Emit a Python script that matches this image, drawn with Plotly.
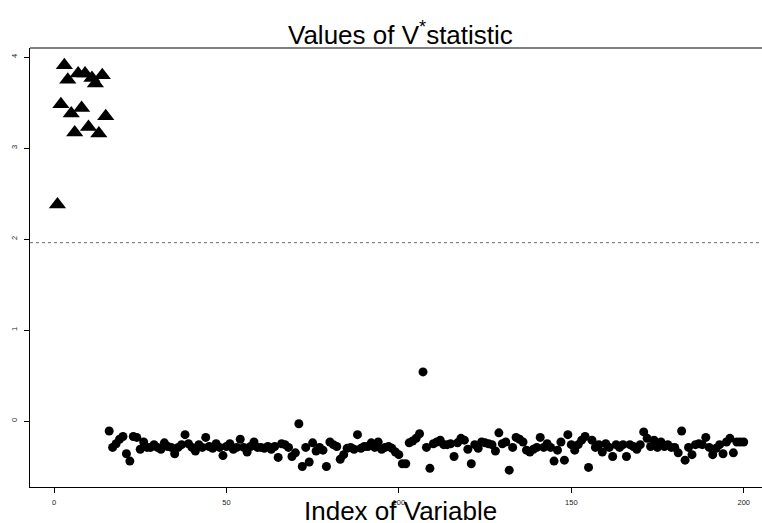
import plotly.graph_objects as go

# Index of variable and V* statistic for the first 15 (active) variables
active_idx = list(range(1, 16))
active_vals = [2.38, 3.48, 3.91, 3.75, 3.38, 3.17, 3.82, 3.44, 3.82, 3.23,
               3.77, 3.71, 3.16, 3.80, 3.35]

# Remaining variables 16..200
inactive_idx = list(range(16, 201))
inactive_vals = [
    -0.11, -0.29, -0.25, -0.20, -0.17, -0.36, -0.44, -0.17, -0.18, -0.31,   # 16-25
    -0.23, -0.29, -0.29, -0.26, -0.29, -0.31, -0.24, -0.28, -0.29, -0.36,   # 26-35
    -0.29, -0.26, -0.15, -0.25, -0.29, -0.33, -0.26, -0.29, -0.18, -0.28,   # 36-45
    -0.30, -0.25, -0.29, -0.38, -0.28, -0.25, -0.31, -0.29, -0.20, -0.29,   # 46-55
    -0.34, -0.28, -0.23, -0.29, -0.29, -0.30, -0.28, -0.31, -0.28, -0.40,   # 56-65
    -0.25, -0.26, -0.29, -0.39, -0.35, -0.03, -0.50, -0.29, -0.45, -0.24,   # 66-75
    -0.33, -0.29, -0.32, -0.50, -0.23, -0.26, -0.28, -0.42, -0.37, -0.30,   # 76-85
    -0.29, -0.31, -0.15, -0.30, -0.28, -0.28, -0.24, -0.29, -0.23, -0.31,   # 86-95
    -0.29, -0.28, -0.30, -0.34, -0.37, -0.47, -0.47, -0.24, -0.22, -0.19,   # 96-105
    -0.14, 0.54, -0.29, -0.52, -0.25, -0.23, -0.21, -0.26, -0.26, -0.25,    # 106-115
    -0.39, -0.24, -0.19, -0.21, -0.31, -0.47, -0.26, -0.30, -0.23, -0.24,   # 116-125
    -0.25, -0.26, -0.33, -0.13, -0.25, -0.23, -0.54, -0.29, -0.18, -0.20,   # 126-135
    -0.23, -0.32, -0.34, -0.31, -0.29, -0.18, -0.29, -0.25, -0.29, -0.44,   # 136-145
    -0.32, -0.23, -0.43, -0.15, -0.26, -0.32, -0.26, -0.21, -0.17, -0.51,   # 146-155
    -0.21, -0.29, -0.26, -0.34, -0.25, -0.29, -0.39, -0.26, -0.29, -0.26,   # 156-165
    -0.39, -0.26, -0.28, -0.31, -0.26, -0.12, -0.19, -0.28, -0.21, -0.29,   # 166-175
    -0.23, -0.28, -0.26, -0.29, -0.29, -0.35, -0.11, -0.43, -0.29, -0.37,   # 176-185
    -0.26, -0.25, -0.26, -0.18, -0.29, -0.37, -0.30, -0.26, -0.36, -0.23,   # 186-195
    -0.19, -0.35, -0.23, -0.23, -0.23,                                      # 196-200
]
assert len(inactive_vals) == len(inactive_idx)

x_ticks = [0, 50, 100, 150, 200]
y_ticks = [0, 1, 2, 3, 4]
threshold = 1.96

FONT = "Liberation Sans, Arial, Helvetica, sans-serif"

fig = go.Figure()
fig.add_trace(go.Scatter(
    x=inactive_idx, y=inactive_vals, mode="markers",
    marker=dict(symbol="circle", size=9, color="black", line=dict(width=0)),
    hoverinfo="x+y", showlegend=False,
))
fig.add_trace(go.Scatter(
    x=active_idx, y=active_vals, mode="markers",
    marker=dict(symbol="triangle-up", size=15, color="black", line=dict(width=0)),
    hoverinfo="x+y", showlegend=False,
))

# reference line at the 1.96 cut-off
fig.add_shape(type="line", xref="paper", x0=0, x1=1, yref="y", y0=threshold, y1=threshold,
              line=dict(color="#444444", width=0.8, dash="dot"))
# thin frame line along the top of the plot region
fig.add_shape(type="line", xref="paper", x0=0, x1=1, yref="paper", y0=1, y1=1,
              line=dict(color="#808080", width=2))

fig.add_annotation(text="Values of V<sup>*</sup>statistic", xref="paper", yref="paper",
                   x=0.506, y=1.034, xanchor="center", yanchor="middle", showarrow=False,
                   font=dict(family=FONT, size=26, color="black"))
fig.add_annotation(text="Index of Variable", xref="paper", yref="paper",
                   x=0.506, y=-0.054, xanchor="center", yanchor="middle", showarrow=False,
                   font=dict(family=FONT, size=26, color="black"))

fig.update_layout(
    width=762, height=523,
    margin=dict(l=30, r=0, t=48, b=36),
    paper_bgcolor="white", plot_bgcolor="white",
    font=dict(family=FONT, color="black"),
    xaxis=dict(range=[-6.96, 205.3], tickvals=x_ticks, ticks="outside", ticklen=5,
               tickwidth=1, tickcolor="black", showline=True, linecolor="black",
               linewidth=1.2, showgrid=False, zeroline=False, ticklabelstandoff=3,
               tickfont=dict(family=FONT, size=7.5, color="#222")),
    yaxis=dict(range=[-0.725, 4.099], tickvals=y_ticks, ticks="outside", ticklen=5,
               tickwidth=1, tickcolor="black", showline=True, linecolor="black",
               linewidth=1.2, showgrid=False, zeroline=False, tickangle=-90,
               ticklabelstandoff=4,
               tickfont=dict(family=FONT, size=7.5, color="#222")),
)

fig.write_html("out.html")
